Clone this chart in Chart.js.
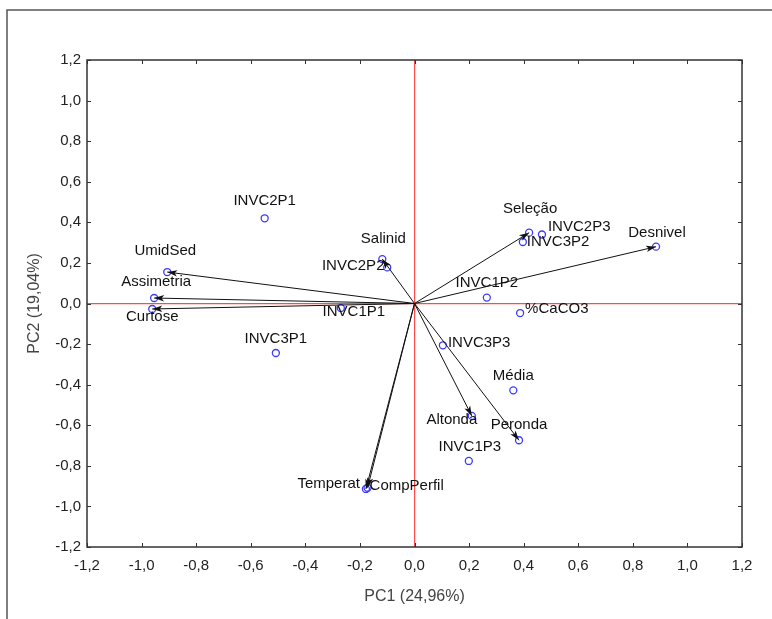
<!DOCTYPE html>
<html>
<head>
<meta charset="utf-8">
<script src="https://cdn.jsdelivr.net/npm/chart.js@4/dist/chart.umd.min.js"></script>
<style>
  body { margin: 0; background: #fff; }
  #wrap { width: 772px; height: 619px; }
</style>
</head>
<body>
<div id="wrap"><canvas id="canvas" width="772" height="619"></canvas></div>
<script>
// casos (pontos de amostragem)
const caseNames = ['INVC1P1', 'INVC1P2', 'INVC1P3', 'INVC2P1', 'INVC2P2', 'INVC2P3', 'INVC3P1', 'INVC3P2', 'INVC3P3'];
const caseX = [-0.27, 0.265, 0.199, -0.549, -0.10, 0.467, -0.508, 0.397, 0.104];
const caseY = [-0.022, 0.029, -0.776, 0.42, 0.178, 0.34, -0.244, 0.303, -0.206];

// variaveis
const varNames = ['UmidSed', 'Assimetria', 'Curtose', 'Salinid', 'Seleção', 'Desnivel', '%CaCO3', 'Média', 'Altonda', 'Peronda', 'Temperat', 'CompPerfil'];
const varX = [-0.906, -0.954, -0.961, -0.118, 0.42, 0.885, 0.387, 0.362, 0.21, 0.383, -0.178, -0.172];
const varY = [0.155, 0.027, -0.027, 0.219, 0.349, 0.28, -0.047, -0.428, -0.554, -0.674, -0.914, -0.908];
const varArrow = [true, true, true, true, true, true, false, false, true, true, true, true];

const axisMin = -1.2;
const axisMax = 1.2;
const axisStep = 0.2;
const xTitle = 'PC1 (24,96%)';
const yTitle = 'PC2 (19,04%)';

// posicao dos rotulos (offset em px a partir do ponto)
const labelPos = {
  'INVC2P1': [0, -17, 'center'], 'UmidSed': [-2, -21, 'center'], 'Assimetria': [2, -16, 'center'],
  'Curtose': [0, 8, 'center'], 'INVC1P1': [13, 4, 'center'], 'INVC3P1': [0, -14, 'center'],
  'Salinid': [1, -20, 'center'], 'INVC2P2': [-34, -2, 'center'], 'Seleção': [1, -24, 'center'],
  'INVC2P3': [6, -8, 'left'], 'INVC3P2': [4, 0, 'left'], 'Desnivel': [1, -14, 'center'],
  'INVC1P2': [0, -15, 'center'], '%CaCO3': [5, -4, 'left'], 'INVC3P3': [5, -2, 'left'],
  'Média': [0, -14, 'center'], 'Altonda': [-20, 4, 'center'], 'Peronda': [0, -15, 'center'],
  'INVC1P3': [1, -14, 'center'], 'Temperat': [-6, -5, 'right'], 'CompPerfil': [2, -2, 'left']
};

const FONT = "'Liberation Sans', Arial, sans-serif";
const BLUE = '#3b3bff';
const RED = '#ff4a4a';
const fmt = v => v.toFixed(1).replace('.', ',');

const arrowSets = [];
varNames.forEach((n, i) => {
  if (!varArrow[i]) return;
  arrowSets.push({
    type: 'line',
    label: n,
    data: [{ x: 0, y: 0 }, { x: varX[i], y: varY[i] }],
    borderColor: '#111',
    borderWidth: 1,
    pointRadius: 0,
    fill: false,
    tip: true
  });
});

const biplotExtras = {
  id: 'biplotExtras',
  beforeDraw(chart) {
    const ctx = chart.ctx;
    ctx.save();
    ctx.strokeStyle = '#555';
    ctx.lineWidth = 1.5;
    ctx.beginPath();
    ctx.moveTo(7, 619);
    ctx.lineTo(7, 10);
    ctx.lineTo(772, 10);
    ctx.stroke();
    ctx.restore();
  },
  afterDatasetsDraw(chart) {
    const ctx = chart.ctx;
    const xs = chart.scales.x, ys = chart.scales.y;
    const a = chart.chartArea;
    ctx.save();

    // pontas das setas
    const ox = xs.getPixelForValue(0), oy = ys.getPixelForValue(0);
    ctx.fillStyle = '#111';
    chart.data.datasets.forEach(ds => {
      if (!ds.tip) return;
      const p = ds.data[1];
      const tx = xs.getPixelForValue(p.x), ty = ys.getPixelForValue(p.y);
      const ang = Math.atan2(ty - oy, tx - ox);
      ctx.save();
      ctx.translate(tx, ty);
      ctx.rotate(ang);
      ctx.beginPath();
      ctx.moveTo(0, 0);
      ctx.lineTo(-10, -3.2);
      ctx.lineTo(-7.5, 0);
      ctx.lineTo(-10, 3.2);
      ctx.closePath();
      ctx.fill();
      ctx.restore();
    });

    // rotulos
    ctx.font = '15px ' + FONT;
    ctx.fillStyle = '#111';
    ctx.textBaseline = 'middle';
    const drawLabel = (n, x, y) => {
      const lp = labelPos[n] || [0, -14, 'center'];
      ctx.textAlign = lp[2];
      ctx.fillText(n, xs.getPixelForValue(x) + lp[0], ys.getPixelForValue(y) + lp[1]);
    };
    caseNames.forEach((n, i) => drawLabel(n, caseX[i], caseY[i]));
    varNames.forEach((n, i) => drawLabel(n, varX[i], varY[i]));

    // moldura e marcas internas
    ctx.strokeStyle = '#333';
    ctx.lineWidth = 1.5;
    ctx.strokeRect(a.left, a.top, a.right - a.left, a.bottom - a.top);
    ctx.lineWidth = 1;
    ctx.beginPath();
    xs.ticks.forEach(t => {
      const px = Math.round(xs.getPixelForValue(t.value)) + 0.5;
      ctx.moveTo(px, a.bottom); ctx.lineTo(px, a.bottom - 4);
      ctx.moveTo(px, a.top); ctx.lineTo(px, a.top + 4);
    });
    ys.ticks.forEach(t => {
      const py = Math.round(ys.getPixelForValue(t.value)) + 0.5;
      ctx.moveTo(a.left, py); ctx.lineTo(a.left + 4, py);
      ctx.moveTo(a.right, py); ctx.lineTo(a.right - 4, py);
    });
    ctx.stroke();

    // titulos dos eixos
    ctx.fillStyle = '#444';
    ctx.font = '16px ' + FONT;
    ctx.textAlign = 'center';
    ctx.fillText(xTitle, (a.left + a.right) / 2, 597);
    ctx.translate(35, (a.top + a.bottom) / 2);
    ctx.rotate(-Math.PI / 2);
    ctx.fillText(yTitle, 0, 0);
    ctx.restore();
  }
};

new Chart(document.getElementById('canvas'), {
  type: 'scatter',
  data: {
    datasets: [
      ...arrowSets,
      {
        label: 'variaveis',
        data: varNames.map((n, i) => ({ x: varX[i], y: varY[i] })),
        pointRadius: 3.5,
        pointBorderWidth: 1.3,
        pointBorderColor: BLUE,
        pointBackgroundColor: 'rgba(0,0,0,0)'
      },
      {
        label: 'casos',
        data: caseNames.map((n, i) => ({ x: caseX[i], y: caseY[i] })),
        pointRadius: 3.5,
        pointBorderWidth: 1.3,
        pointBorderColor: BLUE,
        pointBackgroundColor: 'rgba(0,0,0,0)'
      }
    ]
  },
  options: {
    responsive: false,
    animation: false,
    layout: { padding: { top: 60, right: 30, left: 0, bottom: 0 } },
    plugins: { legend: { display: false }, tooltip: { enabled: false } },
    scales: {
      x: {
        type: 'linear',
        min: axisMin,
        max: axisMax,
        afterFit: s => { s.height = 72; },
        border: { display: false },
        grid: {
          drawTicks: false,
          color: c => (c.tick && Math.abs(c.tick.value) < 1e-9 ? RED : 'rgba(0,0,0,0)'),
          lineWidth: 1.2
        },
        ticks: {
          stepSize: axisStep,
          padding: 10,
          color: '#222',
          font: { family: FONT, size: 15 },
          callback: v => fmt(v)
        }
      },
      y: {
        type: 'linear',
        min: axisMin,
        max: axisMax,
        afterFit: s => { s.width = 87; },
        border: { display: false },
        grid: {
          drawTicks: false,
          color: c => (c.tick && Math.abs(c.tick.value) < 1e-9 ? RED : 'rgba(0,0,0,0)'),
          lineWidth: 1.2
        },
        ticks: {
          stepSize: axisStep,
          padding: 6,
          color: '#222',
          font: { family: FONT, size: 15 },
          callback: v => fmt(v)
        }
      }
    }
  },
  plugins: [biplotExtras]
});
</script>
</body>
</html>
